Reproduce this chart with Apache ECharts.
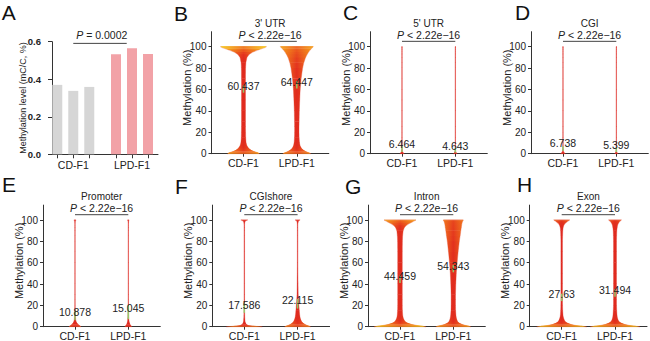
<!DOCTYPE html>
<html>
<head>
<meta charset="utf-8">
<script src="https://cdn.jsdelivr.net/npm/echarts@6/dist/echarts.min.js"></script>
<style>
  html, body { margin: 0; padding: 0; background: #fff; }
  #chart { width: 650px; height: 341px; }
</style>
</head>
<body>
<div id="chart"></div>
<script>
// ---------- Panel A: global methylation level per replicate ----------
const groups = ['CD-F1', 'LPD-F1'];
const globalLevelCD = [0.37, 0.338, 0.359];
const globalLevelLPD = [0.533, 0.565, 0.535];
const globalLevelTicks = [0, 0.2, 0.4, 0.6];
const globalPText = 'P = 0.0002';

// ---------- Panels B–H: CpG methylation by genomic region ----------
const panelLetters = ['A', 'B', 'C', 'D', 'E', 'F', 'G', 'H'];
const regionNames = ["3' UTR", "5' UTR", 'CGI', 'Promoter', 'CGIshore', 'Intron', 'Exon'];
const regionMeansCD = [60.437, 6.464, 6.738, 10.878, 17.586, 44.459, 27.63];
const regionMeansLPD = [64.447, 4.643, 5.399, 15.045, 22.115, 54.343, 31.494];
const regionPText = 'P < 2.22e\u221216';
const methylTicks = [0, 20, 40, 60, 80, 100];

// green interval drawn around each mean
const meanBarLowCD = [57, 1.5, 2.5, 6, 13, 41, 24];
const meanBarHighCD = [64, 7, 7, 15, 22, 48, 31];
const meanBarLowLPD = [61, 1, 1.5, 7, 17, 51, 28];
const meanBarHighLPD = [68, 5.5, 6, 20, 26, 58, 35];

// kernel density (half-width) at each methylation level
const densityLevels = [0, 0.5, 1, 2, 3, 4, 5, 7, 10, 15, 20, 25, 30, 40, 50, 60, 70, 80, 85, 90, 93, 95, 97, 98, 99, 99.5, 100];
const densityUTR3CD = [16, 15, 14, 10.5, 8, 6.5, 5.2, 3.6, 2.6, 2.2, 2.1, 2, 2, 2, 2, 2, 2, 2.1, 2.4, 3.5, 6, 9.5, 15, 18, 21, 22, 23];
const densityUTR3LPD = [14, 12.8, 11.5, 9, 7, 5.7, 4.7, 3.4, 2.7, 2.3, 2.2, 2.2, 2.3, 2.5, 2.9, 3.4, 4.3, 5.8, 7, 8.8, 10.5, 11.8, 13.5, 14.5, 15.5, 16, 16.5];
const densityUTR5CD = [2.2, 1.5, 1, 0.6, 0.4, 0.3, 0.25, 0.25, 0.25, 0.25, 0.25, 0.25, 0.25, 0.25, 0.25, 0.25, 0.25, 0.25, 0.25, 0.25, 0.25, 0.25, 0.25, 0.25, 0.25, 0.25, 0.25];
const densityUTR5LPD = [1.8, 1.2, 0.8, 0.5, 0.35, 0.25, 0.25, 0.25, 0.25, 0.25, 0.25, 0.25, 0.25, 0.25, 0.25, 0.25, 0.25, 0.25, 0.25, 0.25, 0.25, 0.25, 0.25, 0.25, 0.25, 0.25, 0.25];
const densityCGICD = [2.4, 1.6, 1.1, 0.6, 0.4, 0.3, 0.25, 0.25, 0.25, 0.25, 0.25, 0.25, 0.25, 0.25, 0.25, 0.25, 0.25, 0.25, 0.25, 0.25, 0.25, 0.25, 0.25, 0.25, 0.25, 0.25, 0.25];
const densityCGILPD = [1.6, 1.1, 0.7, 0.45, 0.35, 0.25, 0.25, 0.25, 0.25, 0.25, 0.25, 0.25, 0.25, 0.25, 0.25, 0.25, 0.25, 0.25, 0.25, 0.25, 0.25, 0.25, 0.25, 0.25, 0.25, 0.25, 0.25];
const densityPromoterCD = [6, 5.2, 4.5, 3.2, 2.2, 1.5, 1.1, 0.7, 0.5, 0.35, 0.25, 0.25, 0.25, 0.25, 0.25, 0.25, 0.25, 0.25, 0.25, 0.25, 0.25, 0.25, 0.25, 0.3, 0.45, 0.7, 1.1];
const densityPromoterLPD = [3.5, 3, 2.5, 1.8, 1.3, 1, 0.8, 0.6, 0.45, 0.35, 0.25, 0.25, 0.25, 0.25, 0.25, 0.25, 0.25, 0.25, 0.25, 0.25, 0.25, 0.25, 0.25, 0.3, 0.4, 0.55, 0.8];
const densityShoreCD = [18, 9, 4.5, 2.2, 1.4, 1, 0.8, 0.6, 0.45, 0.35, 0.3, 0.3, 0.3, 0.3, 0.3, 0.3, 0.3, 0.3, 0.3, 0.3, 0.3, 0.3, 0.4, 0.6, 1.2, 2.1, 3.5];
const densityShoreLPD = [13, 11.5, 10, 7.5, 5.8, 4.7, 3.9, 2.9, 2.2, 1.7, 1.3, 0.9, 0.6, 0.45, 0.35, 0.3, 0.3, 0.3, 0.3, 0.3, 0.3, 0.3, 0.4, 0.6, 1, 1.5, 2.5];
const densityIntronCD = [26, 22, 18, 12, 8.5, 6.2, 5, 3.6, 2.8, 2.4, 2.3, 2.3, 2.3, 2.3, 2.3, 2.3, 2.3, 2.4, 2.6, 3.2, 4.5, 6.5, 10, 12, 14, 15, 16];
const densityIntronLPD = [17.5, 15.5, 13, 9, 6.5, 5, 4.2, 3.3, 2.7, 2.3, 2.2, 2.2, 2.2, 2.5, 3, 3.8, 4.8, 6, 6.8, 7.5, 8, 8.3, 8.7, 9, 9.5, 9.8, 10];
const densityExonCD = [25, 20, 15, 9.5, 6.5, 4.5, 3.3, 2.2, 1.4, 1, 0.85, 0.8, 0.8, 0.8, 0.8, 0.8, 0.8, 0.8, 0.9, 1.1, 1.5, 2.2, 3.7, 5, 6.5, 7.3, 8];
const densityExonLPD = [25, 20, 15.5, 10, 7, 5, 3.8, 2.7, 2.1, 1.7, 1.5, 1.5, 1.5, 1.5, 1.5, 1.5, 1.5, 1.5, 1.6, 1.8, 2.2, 2.6, 3.5, 4.2, 5.2, 5.8, 6.5];

const violinDensities = [
  [densityUTR3CD, densityUTR3LPD],
  [densityUTR5CD, densityUTR5LPD],
  [densityCGICD, densityCGILPD],
  [densityPromoterCD, densityPromoterLPD],
  [densityShoreCD, densityShoreLPD],
  [densityIntronCD, densityIntronLPD],
  [densityExonCD, densityExonLPD]
];

// ---------- styling / layout ----------
const FONT = '"Liberation Sans", Arial, Helvetica, sans-serif';
const INK = '#222';
const AXIS = '#333';
const VIOLIN_SCALE = 1 / 53.3;       // density -> x-axis units
const DENSITY_FULL = 24;             // density mapped to the lightest colour
const BRACKET_Y = 105, P_Y = 111, TITLE_Y = 122;

const barGrid = { left: 52, top: 41.7, width: 106, height: 112.6 };
const barGroupStart = [0.33, 4];     // bar slots on the x scale, one unit per bar
const violinGrids = [
  { left: 211.5, top: 31.7, height: 122 },
  { left: 370, top: 31.7, height: 122 },
  { left: 531, top: 31.7, height: 122 },
  { left: 43, top: 205.1, height: 121.6 },
  { left: 212.3, top: 205.1, height: 121.6 },
  { left: 368, top: 205.1, height: 121.6 },
  { left: 529.7, top: 205.1, height: 121.6 }
];
const VIOLIN_W = 117.3;
const letterPos = [[1.7, 12.8], [174, 13.6], [343, 12], [515, 12], [2, 184.5], [175, 186], [345, 186], [517, 184.5]];

const densityRamp = [
  [0, [222, 38, 32]], [0.1, [226, 48, 30]], [0.25, [236, 88, 30]], [0.4, [240, 118, 28]],
  [0.6, [243, 152, 26]], [0.85, [246, 196, 26]], [1, [248, 216, 32]]
];
function densityRgb(t) {
  t = Math.max(0, Math.min(1, t));
  for (let i = 1; i < densityRamp.length; i++) {
    if (t <= densityRamp[i][0]) {
      const [t0, c0] = densityRamp[i - 1];
      const [t1, c1] = densityRamp[i];
      const f = (t - t0) / (t1 - t0);
      return c0.map((c, k) => Math.round(c + (c1[k] - c) * f));
    }
  }
  return densityRamp[densityRamp.length - 1][1];
}
const rgba = (c, a) => 'rgba(' + c.join(',') + ',' + a + ')';

// one violin = a faint outline plus stacked slices between consecutive density levels
function violinRenderer(panel) {
  return function (params, api) {
    const xc = api.value(0);
    const dens = violinDensities[panel][params.dataIndex];
    const leftEdge = [], rightEdge = [];
    densityLevels.forEach((y, i) => {
      const w = dens[i] * VIOLIN_SCALE;
      leftEdge.push(api.coord([xc - w, y]));
      rightEdge.unshift(api.coord([xc + w, y]));
    });
    const kids = [{
      type: 'polygon', shape: { points: leftEdge.concat(rightEdge) },
      style: { fill: 'none', stroke: 'rgba(222,40,32,0.5)', lineWidth: 0.6 }
    }];
    for (let i = 0; i < densityLevels.length - 1; i++) {
      const y0 = densityLevels[i], y1 = densityLevels[i + 1];
      const w0 = dens[i] * VIOLIN_SCALE, w1 = dens[i + 1] * VIOLIN_SCALE;
      const a = api.coord([xc - w0, y0]), b = api.coord([xc + w0, y0]);
      const c = api.coord([xc + w1, y1]), d = api.coord([xc - w1, y1]);
      c[1] -= 0.4; d[1] -= 0.4;
      const t = (dens[i] + dens[i + 1]) / 2 / DENSITY_FULL;
      const edge = rgba(densityRgb(t), 1), mid = rgba(densityRgb(t * 0.45), 1);
      kids.push({
        type: 'polygon', shape: { points: [a, b, c, d] },
        style: { fill: { type: 'linear', x: 0, y: 0, x2: 1, y2: 0, colorStops: [
          { offset: 0, color: edge }, { offset: 0.5, color: mid }, { offset: 1, color: edge }] } }
      });
    }
    return { type: 'group', children: kids };
  };
}

function pLabel(text, x, y) {
  return {
    type: 'text', x: x, y: y,
    style: {
      text: '{i|P}{n|' + text.slice(1) + '}', align: 'center', verticalAlign: 'middle',
      rich: {
        i: { fontStyle: 'italic', fontSize: 10.5, fontFamily: FONT, fill: INK },
        n: { fontSize: 10.5, fontFamily: FONT, fill: INK }
      }
    }
  };
}

function annotationRenderer(panel) {
  return function (params, api) {
    const kids = [];
    const means = [regionMeansCD[panel], regionMeansLPD[panel]];
    const lows = [meanBarLowCD[panel], meanBarLowLPD[panel]];
    const highs = [meanBarHighCD[panel], meanBarHighLPD[panel]];
    for (let g = 0; g < 2; g++) {
      const lo = api.coord([g + 1, lows[g]]), hi = api.coord([g + 1, highs[g]]);
      kids.push({ type: 'line', shape: { x1: lo[0], y1: lo[1], x2: hi[0], y2: hi[1] },
        style: { stroke: 'rgba(140,214,110,0.9)', lineWidth: 1.5 } });
    }
    for (let g = 0; g < 2; g++) {
      const p = api.coord([g + 1, means[g]]);
      kids.push({ type: 'text', x: p[0], y: p[1] - 3,
        style: { text: String(means[g]), align: 'center', verticalAlign: 'middle', fontSize: 10.5, fontFamily: FONT, fill: INK } });
    }
    const b0 = api.coord([1, BRACKET_Y]), b1 = api.coord([2, BRACKET_Y]);
    kids.push({ type: 'line', shape: { x1: b0[0], y1: b0[1], x2: b1[0], y2: b1[1] }, style: { stroke: '#444', lineWidth: 1 } });
    const pc = api.coord([1.5, P_Y]);
    kids.push(pLabel(regionPText, pc[0], pc[1]));
    const tc = api.coord([1.5, TITLE_Y]);
    kids.push({ type: 'text', x: tc[0], y: tc[1],
      style: { text: regionNames[panel], align: 'center', verticalAlign: 'middle', fontSize: 10, fontFamily: FONT, fill: INK } });
    return { type: 'group', children: kids };
  };
}

const grids = [];
const xAxes = [];
const yAxes = [];
const series = [];

// Panel A
grids.push(Object.assign({ outerBoundsMode: 'none' }, barGrid));
const barTickPos = [];
for (let g = 0; g < 2; g++) for (let r = 0; r < 3; r++) barTickPos.push(barGroupStart[g] + r);
const groupCenters = barGroupStart.map(s => s + 1);
xAxes.push({
  type: 'value', gridIndex: 0, min: 0, max: barGrid.width / 16,
  axisLine: { show: true, lineStyle: { color: AXIS, width: 1 } },
  axisTick: { show: true, customValues: barTickPos, length: 4, lineStyle: { color: AXIS } },
  axisLabel: { show: true, customValues: groupCenters, margin: 5, fontSize: 10.5, fontFamily: FONT, color: INK,
    formatter: v => groups[groupCenters.findIndex(c => Math.abs(c - v) < 1e-6)] },
  splitLine: { show: false }
});
yAxes.push({
  type: 'value', gridIndex: 0, min: 0, max: 0.6,
  name: 'Methylation level (mC/C, %)', nameLocation: 'middle', nameGap: 24.5, nameMoveOverlap: false,
  nameTextStyle: { fontSize: 9, fontFamily: FONT, color: INK },
  axisLine: { show: true, lineStyle: { color: AXIS, width: 1 } },
  axisTick: { show: true, customValues: globalLevelTicks, length: 4, lineStyle: { color: AXIS } },
  axisLabel: { show: true, customValues: globalLevelTicks, margin: 11, fontSize: 9.5, fontWeight: 'bold', fontFamily: FONT, color: INK,
    formatter: v => v.toFixed(1) },
  splitLine: { show: false }
});
series.push({
  type: 'bar', xAxisIndex: 0, yAxisIndex: 0, barWidth: 10, barGap: '-100%',
  data: globalLevelCD.map((v, r) => [barGroupStart[0] + r, v]),
  itemStyle: { color: '#d6d6d6' }, silent: true
});
series.push({
  type: 'bar', xAxisIndex: 0, yAxisIndex: 0, barWidth: 10, barGap: '-100%',
  data: globalLevelLPD.map((v, r) => [barGroupStart[1] + r, v]),
  itemStyle: { color: '#f2a2a7' }, silent: true
});
series.push({
  type: 'custom', xAxisIndex: 0, yAxisIndex: 0, silent: true, clip: false,
  data: [[groupCenters[0], 0]],
  renderItem: function (params, api) {
    const a = api.coord([groupCenters[0], 0.591]);
    const b = api.coord([groupCenters[1] - 0.33, 0.591]);
    const t = api.coord([(groupCenters[0] + groupCenters[1]) / 2 - 0.05, 0.636]);
    return { type: 'group', children: [
      { type: 'line', shape: { x1: a[0], y1: a[1], x2: b[0], y2: b[1] }, style: { stroke: '#444', lineWidth: 1 } },
      pLabel(globalPText, t[0], t[1])
    ] };
  }
});

// Panels B–H
violinGrids.forEach((vg, p) => {
  const gi = p + 1;
  grids.push({ left: vg.left, top: vg.top, width: VIOLIN_W, height: vg.height, outerBoundsMode: 'none' });
  xAxes.push({
    type: 'value', gridIndex: gi, min: 0.4, max: 2.6,
    axisLine: { show: true, lineStyle: { color: AXIS, width: 1 } },
    axisTick: { show: true, customValues: [1, 2], length: 3, lineStyle: { color: AXIS } },
    axisLabel: { show: true, customValues: [1, 2], margin: 4, fontSize: 10.5, fontFamily: FONT, color: INK,
      formatter: v => groups[Math.round(v) - 1] },
    splitLine: { show: false }
  });
  yAxes.push({
    type: 'value', gridIndex: gi, min: 0, max: 114,
    name: 'Methylation (%)', nameLocation: 'middle', nameGap: 19, nameMoveOverlap: false,
    nameTextStyle: { fontSize: 11, fontFamily: FONT, color: INK, padding: [0, 0, 0, 10] },
    axisLine: { show: true, lineStyle: { color: AXIS, width: 1 } },
    axisTick: { show: true, customValues: methylTicks, length: 3, lineStyle: { color: AXIS } },
    axisLabel: { show: true, customValues: methylTicks, margin: 5, fontSize: 10, fontFamily: FONT, color: INK },
    splitLine: { show: false }
  });
  series.push({
    type: 'custom', xAxisIndex: gi, yAxisIndex: gi, silent: true, clip: false,
    data: [[1, 0], [2, 1]],
    renderItem: violinRenderer(p)
  });
  series.push({
    type: 'custom', xAxisIndex: gi, yAxisIndex: gi, silent: true, clip: false, z: 5,
    data: [[1.5, 0]],
    renderItem: annotationRenderer(p)
  });
});

const chart = echarts.init(document.getElementById('chart'), null, { renderer: 'svg', width: 650, height: 341 });
chart.setOption({
  animation: false,
  backgroundColor: '#fff',
  textStyle: { fontFamily: FONT },
  grid: grids,
  xAxis: xAxes,
  yAxis: yAxes,
  series: series,
  graphic: panelLetters.map((L, i) => ({
    type: 'text', x: letterPos[i][0], y: letterPos[i][1], silent: true,
    style: { text: L, fontSize: 21, fontFamily: FONT, fill: '#111', verticalAlign: 'middle', align: 'left' }
  }))
});
</script>
</body>
</html>
